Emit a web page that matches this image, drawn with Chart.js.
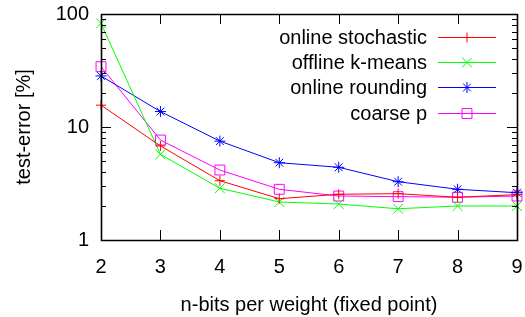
<!DOCTYPE html>
<html>
<head>
<meta charset="utf-8">
<script src="https://cdn.jsdelivr.net/npm/chart.js@4"></script>
<style>
html,body{margin:0;padding:0;background:#fff;}
#wrap{width:525px;height:317px;position:relative;}
</style>
</head>
<body>
<div id="wrap"><canvas id="c" width="525" height="317"></canvas></div>
<script>
const bits = [2, 3, 4, 5, 6, 7, 8, 9];
const onlineStochastic = [15.6, 6.8, 3.35, 2.32, 2.54, 2.57, 2.39, 2.52];
const offlineKMeans = [82.7, 5.73, 2.87, 2.17, 2.08, 1.89, 2.0, 2.0];
const onlineRounding = [28.3, 13.7, 7.5, 4.83, 4.4, 3.28, 2.81, 2.62];
const coarseP = [34.2, 7.67, 4.16, 2.81, 2.45, 2.42, 2.39, 2.45];
const yMajorTicks = [1, 10, 100];
const seriesNames = ['online stochastic', 'offline k-means', 'online rounding', 'coarse p'];

const FONT = 'Liberation Sans, Arial, Helvetica, sans-serif';
const FS = 20;

function mk(label, data, color, style, r) {
  return {
    label, data: bits.map((x, i) => ({x, y: data[i]})),
    borderColor: color, backgroundColor: 'rgba(0,0,0,0)',
    borderWidth: 1, pointStyle: style, pointRadius: r, pointHoverRadius: r,
    pointBorderWidth: 1, pointBorderColor: color, pointBackgroundColor: 'rgba(0,0,0,0)',
    tension: 0, clip: false
  };
}

const frameTicks = {
  id: 'frameTicks',
  afterDatasetsDraw(chart) {
    const ctx = chart.ctx, a = chart.chartArea;
    const xs = chart.scales.x, ys = chart.scales.y;
    ctx.save();
    ctx.strokeStyle = '#000';
    ctx.lineWidth = 1;
    ctx.beginPath();
    const L = 10, l = 5;
    bits.forEach(v => {
      const px = Math.round(xs.getPixelForValue(v)) + 0.5;
      ctx.moveTo(px, a.bottom); ctx.lineTo(px, a.bottom - L);
      ctx.moveTo(px, a.top); ctx.lineTo(px, a.top + L);
    });
    for (let d = 1; d <= 100; d *= 10) {
      for (let m = 1; m <= 9; m++) {
        const v = d * m;
        if (v > 100) break;
        const py = Math.round(ys.getPixelForValue(v)) + 0.5;
        const len = m === 1 ? L : l;
        ctx.moveTo(a.left, py); ctx.lineTo(a.left + len, py);
        ctx.moveTo(a.right, py); ctx.lineTo(a.right - len, py);
      }
    }
    ctx.stroke();
    ctx.lineWidth = 1.6;
    ctx.beginPath();
    ctx.rect(Math.round(a.left) + 0.5, Math.round(a.top) + 0.5, Math.round(a.right - a.left), Math.round(a.bottom - a.top));
    ctx.stroke();
    // legend
    const xTextRight = 427, lineL = 438, lineR = 496, mx = 467;
    ctx.font = FS + 'px ' + FONT;
    ctx.textAlign = 'right';
    ctx.textBaseline = 'middle';
    chart.data.datasets.forEach((ds, i) => {
      const y = Math.round(36.7 + 25.33 * i);
      ctx.fillStyle = '#000';
      ctx.fillText(seriesNames[i], xTextRight, y + 1);
      ctx.strokeStyle = ds.borderColor;
      ctx.lineWidth = 1;
      ctx.beginPath();
      ctx.moveTo(lineL, y + 0.5); ctx.lineTo(lineR, y + 0.5);
      ctx.stroke();
      ctx.fillStyle = 'rgba(0,0,0,0)';
      Chart.helpers.drawPoint(ctx, {pointStyle: ds.pointStyle, radius: ds.pointRadius, rotation: 0, borderWidth: 1}, mx, y + 0.5);
    });
    ctx.restore();
  }
};

new Chart(document.getElementById('c'), {
  type: 'line',
  data: {
    datasets: [
      mk(seriesNames[0], onlineStochastic, '#ff0000', 'cross', 5),
      mk(seriesNames[1], offlineKMeans, '#00ff00', 'crossRot', 7),
      mk(seriesNames[2], onlineRounding, '#0000ff', 'star', 5.5),
      mk(seriesNames[3], coarseP, '#ff00ff', 'rect', 7)
    ]
  },
  options: {
    responsive: false,
    animation: false,
    devicePixelRatio: 1,
    layout: {padding: {top: 14, right: 7, left: 0, bottom: 0}},
    plugins: {legend: {display: false}, tooltip: {enabled: false}},
    scales: {
      x: {
        type: 'linear', min: 2, max: 9,
        afterBuildTicks(s) { s.ticks = bits.map(v => ({value: v})); },
        afterFit(s) { s.height = 77; s.paddingLeft = 0; s.paddingRight = 0; },
        grid: {display: false, drawTicks: false},
        border: {display: false},
        ticks: {padding: 15, color: '#000', font: {family: FONT, size: FS}, maxRotation: 0, autoSkip: false,
          callback: v => String(v)},
        title: {display: true, text: 'n-bits per weight (fixed point)', color: '#000',
          font: {family: FONT, size: FS}, padding: {top: 0, bottom: 0}}
      },
      y: {
        type: 'logarithmic', min: 1, max: 100,
        afterBuildTicks(s) { s.ticks = yMajorTicks.map(v => ({value: v, major: true})); },
        afterFit(s) { s.width = 101; s.paddingTop = 0; s.paddingBottom = 0; },
        grid: {display: false, drawTicks: false},
        border: {display: false},
        ticks: {padding: 12, color: '#000', font: {family: FONT, size: FS}, autoSkip: false,
          callback: v => String(v)},
        title: {display: true, text: 'test-error [%]', color: '#000',
          font: {family: FONT, size: FS}, padding: {top: 12, bottom: 0}}
      }
    }
  },
  plugins: [frameTicks]
});
</script>
</body>
</html>
